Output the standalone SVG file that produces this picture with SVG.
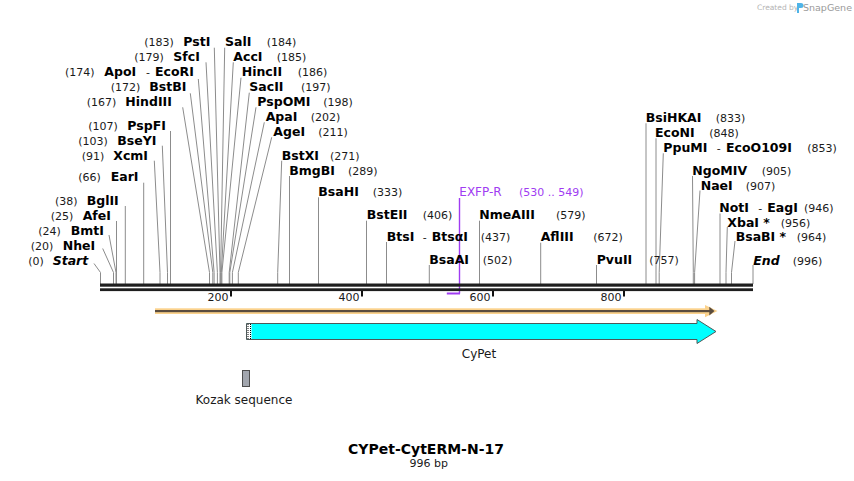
<svg xmlns="http://www.w3.org/2000/svg" width="854" height="481" viewBox="0 0 854 481">
<style>
text{font-family:"DejaVu Sans","Liberation Sans",sans-serif;fill:#1a1a1a}
.n{font-size:11px}
.b{font-size:12.5px;font-weight:bold;fill:#000}
.bi{font-size:12.5px;font-weight:bold;font-style:italic;fill:#000}
.p{fill:#a03cf2}
.l{stroke:#8c8c8c;stroke-width:1;fill:none}
.tk{stroke:#111;stroke-width:2}
</style>
<rect width="854" height="481" fill="#fff"/>
<g id="watermark">
<text x="757" y="10" style="font-size:7.5px;fill:#b4b4b4">Created by</text>
<path d="M797,3 h4 a2.5,2.5 0 0 1 0,5 h-2 v5 h-2 z" fill="#4fb4e8"/>
<text x="803" y="11" style="font-size:9.5px;fill:#9a9a9a">SnapGene</text>
</g>
<g id="connectors">
<polyline class="l" points="94,263.5 100.5,272.5 100.5,284"/>
<polyline class="l" points="102.7,248.5 113.5,272.5 113.5,284"/>
<polyline class="l" points="109,235 116,272.5 116,284"/>
<polyline class="l" points="116.5,221 116.5,284"/>
<polyline class="l" points="125.3,206 125.3,284"/>
<polyline class="l" points="143.7,182.7 143.7,284"/>
<polyline class="l" points="154.3,160.7 160,272.5 160,284"/>
<polyline class="l" points="162.3,145.7 167.5,272.5 167.5,284"/>
<polyline class="l" points="170.5,131 170.5,284"/>
<polyline class="l" points="182.7,107.3 209.5,272.5 209.5,284"/>
<polyline class="l" points="190.3,93.3 212.8,272.5 212.8,284"/>
<polyline class="l" points="198.3,79 214.1,272.5 214.1,284"/>
<polyline class="l" points="206,62.3 217.4,272.5 217.4,284"/>
<polyline class="l" points="214.3,47.7 220,272.5 220,284"/>
<polyline class="l" points="224.7,47.7 220.6,272.5 220.6,284"/>
<polyline class="l" points="233.3,62.3 221.3,272.5 221.3,284"/>
<polyline class="l" points="241,77.7 221.9,272.5 221.9,284"/>
<polyline class="l" points="249.3,92.7 229.2,272.5 229.2,284"/>
<polyline class="l" points="256,107.3 229.8,272.5 229.8,284"/>
<polyline class="l" points="264.3,122.3 232.4,272.5 232.4,284"/>
<polyline class="l" points="271.7,137.3 238.3,272.5 238.3,284"/>
<polyline class="l" points="281.7,160.7 277.7,272.5 277.7,284"/>
<polyline class="l" points="289.5,176 289.5,284"/>
<polyline class="l" points="318.5,197.3 318.5,284"/>
<polyline class="l" points="366.5,220.7 366.5,284"/>
<polyline class="l" points="386.5,242 386.5,284"/>
<polyline class="l" points="429.3,265 429.3,284"/>
<polyline class="l" points="479.5,220.7 479.5,284"/>
<polyline class="l" points="540.7,242.7 540.7,284"/>
<polyline class="l" points="596.5,265 596.5,284"/>
<polyline class="l" points="646,123.3 646,284"/>
<polyline class="l" points="656,138.3 656,284"/>
<polyline class="l" points="663.3,153.3 659.2,272.5 659.2,284"/>
<polyline class="l" points="692.5,176 693.3,272.5 693.3,284"/>
<polyline class="l" points="700,190.5 694.6,272.5 694.6,284"/>
<polyline class="l" points="720,213.5 720,284"/>
<polyline class="l" points="727.3,227 726,272.5 726,284"/>
<polyline class="l" points="735,241 731.5,272.5 731.5,284"/>
<polyline class="l" points="753,265 753,284"/>
<path d="M459.5,198 V293.5" stroke="#a03cf2" stroke-width="1.4" fill="none"/>
</g>
<g id="sequence">
<rect x="100" y="283.5" width="653" height="3.2" fill="#1e1e1e"/>
<rect x="100" y="288.3" width="653" height="2.8" fill="#1e1e1e"/>
<line class="tk" x1="231" y1="291" x2="231" y2="296.5"/>
<line class="tk" x1="362" y1="291" x2="362" y2="296.5"/>
<line class="tk" x1="493" y1="291" x2="493" y2="296.5"/>
<line class="tk" x1="624" y1="291" x2="624" y2="296.5"/>
<text class="n" x="228.5" y="300.5" text-anchor="end">200</text>
<text class="n" x="359.5" y="300.5" text-anchor="end">400</text>
<text class="n" x="490.5" y="300.5" text-anchor="end">600</text>
<text class="n" x="621.5" y="300.5" text-anchor="end">800</text>
</g>
<g id="EXFP-R">
<line x1="446.8" y1="293.5" x2="460" y2="293.5" stroke="#a03cf2" stroke-width="2"/>
<text x="459.3" y="196.2" style="font-size:12px" class="p">EXFP-R</text>
<text class="n p" x="519" y="196.2">(530 .. 549)</text>
</g>
<g id="orf">
<rect x="155" y="308.3" width="556" height="5.7" fill="#fbd28c"/>
<polygon points="705,305 717.5,311.1 705,317.2" fill="#fbd28c"/>
<rect x="155" y="310" width="555" height="2.2" fill="#5a4c3e"/>
<polygon points="709.3,306.8 714.5,311.1 709.3,315.4" fill="#5a4c3e"/>
</g>
<g id="CyPet">
<polygon points="246.5,323.5 697,323.5 697,319.5 716,331.5 697,343.5 697,339.5 246.5,339.5" fill="#00ffff" stroke="#4d5959" stroke-width="1"/>
<rect x="247" y="324" width="4.5" height="15" fill="#fff"/>
<line x1="248" y1="324" x2="248" y2="339" stroke="#000" stroke-width="1" stroke-dasharray="1,1"/>
<line x1="250.5" y1="324" x2="250.5" y2="339" stroke="#000" stroke-width="1" stroke-dasharray="1,1"/>
<text x="479" y="357.5" text-anchor="middle" style="font-size:12px">CyPet</text>
</g>
<g id="Kozak">
<rect x="242.5" y="370.5" width="7" height="16" fill="#a2a6ae" stroke="#4d4d4d" stroke-width="1"/>
<text x="244" y="404.3" text-anchor="middle" style="font-size:12px">Kozak sequence</text>
</g>
<g id="title">
<text x="426" y="453.5" text-anchor="middle" style="font-size:14px;font-weight:bold;fill:#000">CYPet-CytERM-N-17</text>
<text x="428.8" y="467.3" text-anchor="middle" style="font-size:11px">996 bp</text>
</g>
<g id="PstI"><text class="n" x="144.3" y="46.2">(183)</text><text class="b" x="183.3" y="46.2">PstI</text></g>
<g id="SalI"><text class="b" x="225" y="46.2">SalI</text><text class="n" x="266.7" y="46.2">(184)</text></g>
<g id="SfcI"><text class="n" x="134.3" y="61.2">(179)</text><text class="b" x="173.3" y="61.2">SfcI</text></g>
<g id="AccI"><text class="b" x="233.3" y="61.2">AccI</text><text class="n" x="276.7" y="61.2">(185)</text></g>
<g id="ApoI"><text class="n" x="65" y="76.2">(174)</text><text class="b" x="104.3" y="76.2">ApoI</text><text class="n" x="146" y="76.2">-</text><text class="b" x="155" y="76.2">EcoRI</text></g>
<g id="HincII"><text class="b" x="241.7" y="76.2">HincII</text><text class="n" x="297.7" y="76.2">(186)</text></g>
<g id="BstBI"><text class="n" x="110.7" y="91.2">(172)</text><text class="b" x="149.3" y="91.2">BstBI</text></g>
<g id="SacII"><text class="b" x="249.3" y="91.2">SacII</text><text class="n" x="301" y="91.2">(197)</text></g>
<g id="HindIII"><text class="n" x="86.7" y="106.2">(167)</text><text class="b" x="125.3" y="106.2">HindIII</text></g>
<g id="PspOMI"><text class="b" x="257.3" y="106.2">PspOMI</text><text class="n" x="323.3" y="106.2">(198)</text></g>
<g id="ApaI"><text class="b" x="265.7" y="121.2">ApaI</text><text class="n" x="310.7" y="121.2">(202)</text></g>
<g id="PspFI"><text class="n" x="88.3" y="129.5">(107)</text><text class="b" x="127.3" y="129.5">PspFI</text></g>
<g id="AgeI"><text class="b" x="273.3" y="136.2">AgeI</text><text class="n" x="318.3" y="136.2">(211)</text></g>
<g id="BseYI"><text class="n" x="78.3" y="144.5">(103)</text><text class="b" x="117.3" y="144.5">BseYI</text></g>
<g id="XcmI"><text class="n" x="81.7" y="159.5">(91)</text><text class="b" x="113.3" y="159.5">XcmI</text></g>
<g id="BstXI"><text class="b" x="281.7" y="159.5">BstXI</text><text class="n" x="330" y="159.5">(271)</text></g>
<g id="BmgBI"><text class="b" x="289.3" y="174.5">BmgBI</text><text class="n" x="348" y="174.5">(289)</text></g>
<g id="EarI"><text class="n" x="78.3" y="181.2">(66)</text><text class="b" x="110.7" y="181.2">EarI</text></g>
<g id="BsaHI"><text class="b" x="318.3" y="196.2">BsaHI</text><text class="n" x="372.7" y="196.2">(333)</text></g>
<g id="BglII"><text class="n" x="55" y="204.5">(38)</text><text class="b" x="86.7" y="204.5">BglII</text></g>
<g id="AfeI"><text class="n" x="50.7" y="219.5">(25)</text><text class="b" x="82.7" y="219.5">AfeI</text></g>
<g id="BmtI"><text class="n" x="38.3" y="234.5">(24)</text><text class="b" x="70.7" y="234.5">BmtI</text></g>
<g id="NheI"><text class="n" x="30.7" y="249.5">(20)</text><text class="b" x="62.7" y="249.5">NheI</text></g>
<g id="Start"><text class="n" x="28.3" y="264.5">(0)</text><text class="bi" x="52.7" y="264.5">Start</text></g>
<g id="BstEII"><text class="b" x="366.7" y="218.8">BstEII</text><text class="n" x="422.7" y="218.8">(406)</text></g>
<g id="NmeAIII"><text class="b" x="479.3" y="218.8">NmeAIII</text><text class="n" x="556" y="218.8">(579)</text></g>
<g id="BtsI"><text class="b" x="386.7" y="241.2">BtsI</text><text class="n" x="422.7" y="241.2">-</text><text class="b" x="431.7" y="241.2">BtsαI</text><text class="n" x="480.7" y="241.2">(437)</text></g>
<g id="AflIII"><text class="b" x="540.7" y="241.2">AflIII</text><text class="n" x="593.3" y="241.2">(672)</text></g>
<g id="BsaAI"><text class="b" x="429.3" y="263.8">BsaAI</text><text class="n" x="482.7" y="263.8">(502)</text></g>
<g id="PvuII"><text class="b" x="596.7" y="263.8">PvuII</text><text class="n" x="649.3" y="263.8">(757)</text></g>
<g id="BsiHKAI"><text class="b" x="645.7" y="121.8">BsiHKAI</text><text class="n" x="715.7" y="121.8">(833)</text></g>
<g id="EcoNI"><text class="b" x="655" y="136.8">EcoNI</text><text class="n" x="709.3" y="136.8">(848)</text></g>
<g id="PpuMI"><text class="b" x="663.3" y="151.8">PpuMI</text><text class="n" x="716.7" y="151.8">-</text><text class="b" x="726" y="151.8">EcoO109I</text><text class="n" x="807.3" y="151.8">(853)</text></g>
<g id="NgoMIV"><text class="b" x="692.3" y="175.2">NgoMIV</text><text class="n" x="761.7" y="175.2">(905)</text></g>
<g id="NaeI"><text class="b" x="700.7" y="190.2">NaeI</text><text class="n" x="745.7" y="190.2">(907)</text></g>
<g id="NotI"><text class="b" x="719.3" y="211.8">NotI</text><text class="n" x="758.3" y="211.8">-</text><text class="b" x="767.3" y="211.8">EagI</text><text class="n" x="804" y="211.8">(946)</text></g>
<g id="XbaI"><text class="b" x="727.3" y="226.8">XbaI *</text><text class="n" x="780.7" y="226.8">(956)</text></g>
<g id="BsaBI"><text class="b" x="735.7" y="241.2">BsaBI *</text><text class="n" x="796.7" y="241.2">(964)</text></g>
<g id="End"><text class="bi" x="753.3" y="265.2">End</text><text class="n" x="792.7" y="265.2">(996)</text></g>
</svg>
